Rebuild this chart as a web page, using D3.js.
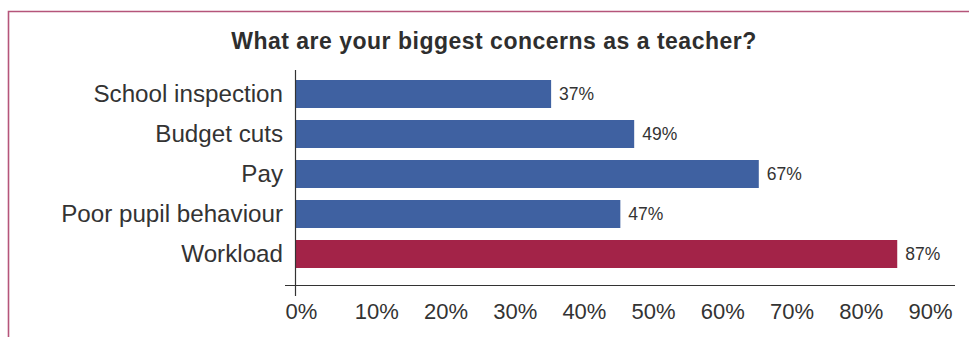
<!DOCTYPE html>
<html>
<head>
<meta charset="utf-8">
<script src="https://cdn.jsdelivr.net/npm/d3@7"></script>
<style>
  html, body { margin: 0; padding: 0; background: #fff; }
  svg { display: block; }
  text { font-family: "Liberation Sans", Arial, Helvetica, sans-serif; fill: #333; }
</style>
</head>
<body>
<svg id="chart" width="969" height="337"></svg>
<script>
// Survey responses: share of teachers naming each concern
const categories = ["School inspection", "Budget cuts", "Pay", "Poor pupil behaviour", "Workload"];
const values = [37, 49, 67, 47, 87];
const highlight = ["Workload"];
const tickValues = [0, 10, 20, 30, 40, 50, 60, 70, 80, 90];
const title = "What are your biggest concerns as a teacher?";

const svg = d3.select("#chart");
const W = 969, H = 337;

// Frame along the top and left edges
svg.append("path")
  .attr("d", `M8.5,${H} L8.5,11.5 L${W},11.5`)
  .attr("fill", "none")
  .attr("stroke", "#b5557a")
  .attr("stroke-width", 1.6);

svg.append("text")
  .attr("x", 494)
  .attr("y", 48.5)
  .attr("text-anchor", "middle")
  .attr("font-size", 23)
  .attr("font-weight", "bold")
  .attr("letter-spacing", 0.5)
  .style("fill", "#2e2e2e")
  .text(title);

const x = d3.scaleLinear().domain([0, 90]).range([295, 918]);
const y = d3.scaleBand().domain(categories).range([74, 274]).paddingInner(0.3).paddingOuter(0.15);

// Bars
svg.append("g").selectAll("rect")
  .data(categories)
  .join("rect")
  .attr("x", x(0))
  .attr("y", d => y(d))
  .attr("width", (d, i) => x(values[i]) - x(0))
  .attr("height", y.bandwidth())
  .attr("fill", d => highlight.includes(d) ? "#a32348" : "#3f61a1");

// Value labels
svg.append("g").selectAll("text")
  .data(categories)
  .join("text")
  .attr("x", (d, i) => x(values[i]) + 8)
  .attr("y", d => y(d) + y.bandwidth() / 2)
  .attr("dy", "0.35em")
  .attr("font-size", 17.5)
  .text((d, i) => values[i] + "%");

// Category labels
svg.append("g").selectAll("text")
  .data(categories)
  .join("text")
  .attr("x", 283)
  .attr("y", d => y(d) + y.bandwidth() / 2)
  .attr("dy", "0.35em")
  .attr("text-anchor", "end")
  .attr("font-size", 24.2)
  .text(d => d);

// Axis lines
const axisY = 285.5;
svg.append("line")
  .attr("x1", x(0) - 10).attr("x2", 955)
  .attr("y1", axisY).attr("y2", axisY)
  .attr("stroke", "#333").attr("stroke-width", 1.2);
svg.append("line")
  .attr("x1", x(0) + 0.5).attr("x2", x(0) + 0.5)
  .attr("y1", 70).attr("y2", 296)
  .attr("stroke", "#333").attr("stroke-width", 1.2);

// Tick labels
const xAxis = d3.axisBottom(x)
  .tickValues(tickValues)
  .tickSize(0)
  .tickFormat(d => d + "%");
const gx = svg.append("g")
  .attr("transform", `translate(0,${axisY})`)
  .call(xAxis);
gx.select(".domain").remove();
gx.selectAll("text")
  .attr("text-anchor", "start")
  .attr("dx", -10)
  .attr("y", 0)
  .attr("dy", 33)
  .attr("font-size", 22)
  .attr("font-family", "Liberation Sans, Arial, sans-serif")
  .style("fill", "#333");
</script>
</body>
</html>
